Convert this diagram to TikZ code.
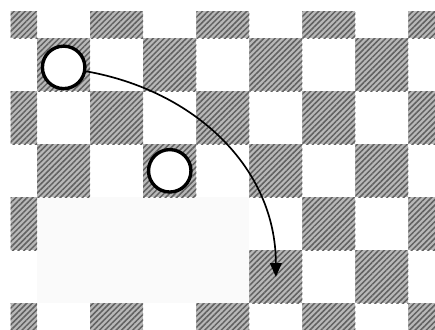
\documentclass[tikz,border=0pt]{standalone}
\usetikzlibrary{arrows.meta,patterns.meta}

\begin{document}
\begin{tikzpicture}[x=1cm,y=1cm,
  cell/.style={fill=black!28,
    postaction={pattern={Lines[angle=45,distance=2.1pt,line width=.8pt]},pattern color=black!62}},
  erased/.style={fill=black!2},
  stone/.style={circle,draw=black,line width=1.8pt,fill=white,minimum size=8mm,inner sep=0pt},
  move/.style={-{Triangle[length=2.6mm,width=2.2mm]},line width=.9pt}]

\useasboundingbox (0.3,-0.28) rectangle (8.5,-6.5);
% cleared part of the board
\fill[erased] (1,-4) rectangle (5,-6);
\begin{scope}
  \clip (0.5,-0.5) rectangle (8.5,-6.5);
  \foreach \r/\cols in {0/{0,2,4,6,8},1/{1,3,5,7},2/{0,2,4,6,8},3/{1,3,5,7},
                        4/{0,6,8},5/{5,7},6/{0,2,4,6,8}}
    \foreach \c in \cols
      \fill[cell] (\c,-\r) rectangle ++(1,-1);
\end{scope}

\node[stone] (start) at (1.5,-1.55) {};
\node[stone] (other) at (3.5,-3.5) {};
\coordinate (goal) at (5.5,-5.5);
\draw[move] (start) to[out=-10,in=90] (goal);

\end{tikzpicture}
\end{document}
